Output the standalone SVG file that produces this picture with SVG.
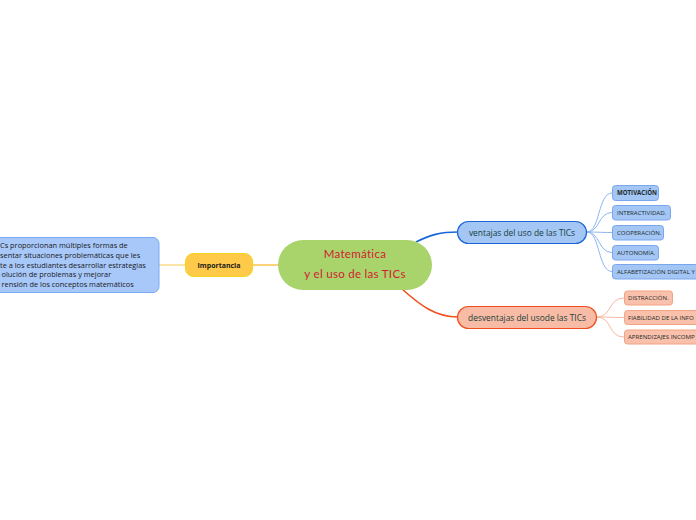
<svg xmlns="http://www.w3.org/2000/svg" width="696" height="520" viewBox="0 0 696 520">
<style>
.bg{fill:#ffffff}
.sub{font-family:"Open Sans","Noto Sans",sans-serif;font-size:6.1px;fill:#1d2a2a}
.subb{fill:#a3c6f5;stroke:#7aa6ee;stroke-width:1}
.subr{fill:#f9c1ab;stroke:#f3a283;stroke-width:1}
.lb{fill:none;stroke:#8cb6f0;stroke-width:1}
.lr{fill:none;stroke:#f7b8a0;stroke-width:1}
.main{font-family:"Open Sans","Noto Sans",sans-serif;font-size:8.4px;fill:#17403a}
.left{font-family:"Open Sans","Noto Sans",sans-serif;font-size:7.4px;fill:#1a1a1a}
</style>
<rect class="bg" x="0" y="0" width="696" height="520"/>
<g id="connectors">
<path d="M159,265 L185,265" stroke="#f7c850" stroke-width="1" fill="none"/>
<path d="M253,265 L279,265" stroke="#f5b520" stroke-width="1.2" fill="none"/>
<path d="M416,242 C430,235 440,232 458,232" stroke="#1a66d8" stroke-width="1.6" fill="none"/>
<path d="M402,289 C420,305 435,317 458,317" stroke="#f0501e" stroke-width="1.6" fill="none"/>
<path class="lb" d="M587,232 C600,232 598,193 612,193"/>
<path class="lb" d="M587,232 C600,232 598,212.5 612,212.5"/>
<path class="lb" d="M587,232 C600,232 598,232.5 612,232.5"/>
<path class="lb" d="M587,232 C600,232 598,252.5 612,252.5"/>
<path class="lb" d="M587,232 C600,232 598,271.5 612,271.5"/>
<path class="lr" d="M597,317 C612,317 608,298 624,298"/>
<path class="lr" d="M597,317 C612,317 608,317.5 624,317.5"/>
<path class="lr" d="M597,317 C612,317 608,337 624,337"/>
</g>
<g id="central">
<rect x="278" y="240" width="154" height="50" rx="25" fill="#a9d46b"/>
<text x="355" y="258" text-anchor="middle" font-family="Lato,'Noto Sans',sans-serif" font-size="11.5" fill="#d21a33" letter-spacing="0.3">Matemática</text>
<text x="355" y="278" text-anchor="middle" font-family="Lato,'Noto Sans',sans-serif" font-size="11.5" fill="#d21a33" letter-spacing="0.3">y el uso de las TICs</text>
</g>
<g id="importancia">
<rect x="185.5" y="253.5" width="67" height="23" rx="8" fill="#ffc94a" stroke="#f3d41a" stroke-width="1"/>
<text x="219" y="267.5" text-anchor="middle" font-family="'Open Sans','Noto Sans',sans-serif" font-size="7" font-weight="bold" fill="#1a1a1a">Importancia</text>
</g>
<g id="descripcion">
<rect x="-20" y="237.5" width="179" height="55" rx="6" fill="#a8c8fa" stroke="#7aaaf2" stroke-width="1"/>
<text class="left" x="0" y="247.5">Cs  proporcionan múltiples formas de</text>
<text class="left" x="0" y="257.5">sentar situaciones problemáticas que les</text>
<text class="left" x="0" y="267.5">te a los estudiantes desarrollar estrategias</text>
<text class="left" x="1.5" y="277">olución de problemas y mejorar</text>
<text class="left" x="1.5" y="287">rensión de los conceptos matemáticos</text>
</g>
<g id="ventajas">
<rect x="457.5" y="221.5" width="129" height="22" rx="11" fill="#a3c6f5" stroke="#1a66d8" stroke-width="1.2"/>
<text class="main" x="522" y="235.5" text-anchor="middle">ventajas del uso de las TICs</text>
</g>
<g id="motivacion">
<rect class="subb" x="612.5" y="185.5" width="46" height="15" rx="3"/>
<text class="sub" x="617" y="195.3" font-weight="bold">MOTIVACIÓN</text>
</g>
<g id="interactividad">
<rect class="subb" x="612.5" y="205.5" width="58" height="14.5" rx="3"/>
<text class="sub" x="617" y="215">INTERACTIVIDAD.</text>
</g>
<g id="cooperacion">
<rect class="subb" x="612.5" y="225.5" width="51" height="14.5" rx="3"/>
<text class="sub" x="617" y="235">COOPERACIÓN.</text>
</g>
<g id="autonomia">
<rect class="subb" x="612.5" y="245.5" width="46" height="14.5" rx="3"/>
<text class="sub" x="617" y="255">AUTONOMÍA.</text>
</g>
<g id="alfabetizacion">
<rect class="subb" x="612.5" y="264.5" width="100" height="14.5" rx="3"/>
<text class="sub" x="617" y="274">ALFABETIZACIÓN DIGITAL Y</text>
</g>
<g id="desventajas">
<rect x="457.5" y="306.5" width="139" height="22" rx="11" fill="#f8bca6" stroke="#f0501e" stroke-width="1.2"/>
<text class="main" x="527" y="320.5" text-anchor="middle">desventajas del usode las TICs</text>
</g>
<g id="distraccion">
<rect class="subr" x="624.5" y="291" width="48" height="14" rx="3"/>
<text class="sub" x="628" y="300.3">DISTRACCIÓN.</text>
</g>
<g id="fiabilidad">
<rect class="subr" x="624.5" y="310.5" width="90" height="14" rx="3"/>
<text class="sub" x="628" y="319.8">FIABILIDAD DE LA INFO</text>
</g>
<g id="aprendizajes">
<rect class="subr" x="624.5" y="330" width="90" height="14" rx="3"/>
<text class="sub" x="628" y="339.3">APRENDIZAJES INCOMP</text>
</g>
</svg>
